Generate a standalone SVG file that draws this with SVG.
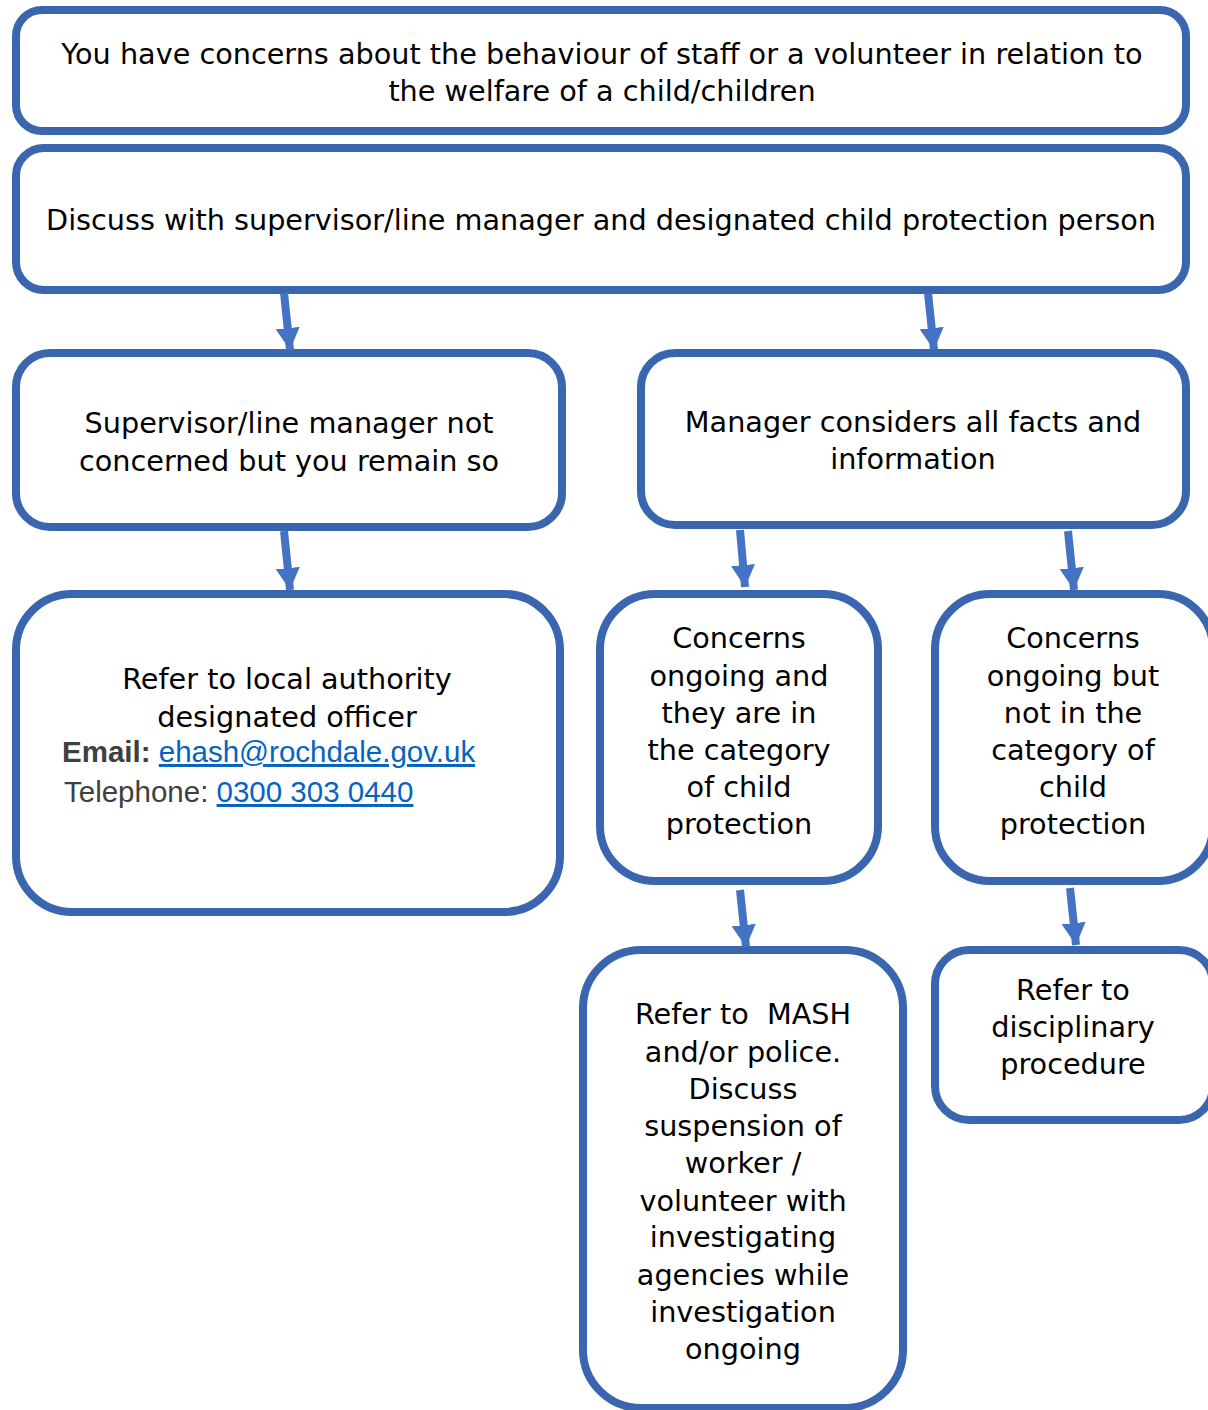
<svg xmlns="http://www.w3.org/2000/svg" width="1208" height="1410" viewBox="0 0 1208 1410">
<style>
.box{fill:#fff;stroke:#3A65AF;stroke-width:8}
.t{font-family:"DejaVu Sans",Verdana,sans-serif;font-size:28.7px;fill:#000;text-anchor:middle}
.c{font-family:"Liberation Sans",Arial,sans-serif;font-size:29.5px;fill:#404040}
.lnk{fill:#0563C1;text-decoration:underline}
.conn line{stroke:#4472C4;stroke-width:8}
</style>
<defs>
<marker id="ah" markerUnits="userSpaceOnUse" markerWidth="26" markerHeight="24" refX="22" refY="12" orient="auto">
<path d="M0,0 L22,12 L0,24 Z" fill="#4472C4"/>
</marker>
</defs>
<rect width="1208" height="1410" fill="#fff"/>
<g id="n1"><rect class="box" x="16" y="10" width="1170" height="121" rx="26"/>
<text class="t" x="602" y="64">You have concerns about the behaviour of staff or a volunteer in relation to</text>
<text class="t" x="602" y="101">the welfare of a child/children</text></g>
<g id="n2"><rect class="box" x="16" y="148" width="1170" height="142" rx="28"/>
<text class="t" x="601" y="230">Discuss with supervisor/line manager and designated child protection person</text></g>
<g id="n3"><rect class="box" x="16" y="353" width="546" height="174" rx="34"/>
<text class="t" x="289" y="433">Supervisor/line manager not</text>
<text class="t" x="289" y="471">concerned but you remain so</text></g>
<g id="n4"><rect class="box" x="641" y="353" width="545" height="172" rx="34"/>
<text class="t" x="913" y="432">Manager considers all facts and</text>
<text class="t" x="913" y="469">information</text></g>
<g id="n5"><rect class="box" x="16" y="594" width="544" height="318" rx="56"/>
<text class="t" x="287" y="689">Refer to local authority</text>
<text class="t" x="287" y="727">designated officer</text>
<text class="c" x="62" y="762"><tspan font-weight="bold">Email:</tspan> <tspan class="lnk">ehash@rochdale.gov.uk</tspan></text>
<text class="c" x="64" y="802">Telephone: <tspan class="lnk">0300 303 0440</tspan></text></g>
<g id="n6"><rect class="box" x="600" y="594" width="278" height="287" rx="55"/>
<text class="t" x="739" y="648">Concerns</text>
<text class="t" x="739" y="686">ongoing and</text>
<text class="t" x="739" y="723">they are in</text>
<text class="t" x="739" y="760">the category</text>
<text class="t" x="739" y="797">of child</text>
<text class="t" x="739" y="834">protection</text></g>
<g id="n7"><rect class="box" x="935" y="594" width="278" height="287" rx="55"/>
<text class="t" x="1073" y="648">Concerns</text>
<text class="t" x="1073" y="686">ongoing but</text>
<text class="t" x="1073" y="723">not in the</text>
<text class="t" x="1073" y="760">category of</text>
<text class="t" x="1073" y="797">child</text>
<text class="t" x="1073" y="834">protection</text></g>
<g id="n8"><rect class="box" x="583" y="950" width="320" height="458" rx="58"/>
<text class="t" x="743" y="1024" style="white-space:pre">Refer to  MASH</text>
<text class="t" x="743" y="1062">and/or police.</text>
<text class="t" x="743" y="1099">Discuss</text>
<text class="t" x="743" y="1136">suspension of</text>
<text class="t" x="743" y="1173">worker /</text>
<text class="t" x="743" y="1211">volunteer with</text>
<text class="t" x="743" y="1247">investigating</text>
<text class="t" x="743" y="1285">agencies while</text>
<text class="t" x="743" y="1322">investigation</text>
<text class="t" x="743" y="1359">ongoing</text></g>
<g id="n9"><rect class="box" x="935" y="950" width="278" height="170" rx="34"/>
<text class="t" x="1073" y="1000">Refer to</text>
<text class="t" x="1073" y="1037">disciplinary</text>
<text class="t" x="1073" y="1074">procedure</text></g>
<g id="connectors" class="conn">
<line x1="284" y1="293" x2="290" y2="350" marker-end="url(#ah)"/>
<line x1="928" y1="293" x2="934" y2="350" marker-end="url(#ah)"/>
<line x1="284" y1="531" x2="290" y2="590" marker-end="url(#ah)"/>
<line x1="740" y1="530" x2="745" y2="587" marker-end="url(#ah)"/>
<line x1="1068" y1="531" x2="1074" y2="590" marker-end="url(#ah)"/>
<line x1="740" y1="890" x2="746" y2="947" marker-end="url(#ah)"/>
<line x1="1070" y1="888" x2="1076" y2="945" marker-end="url(#ah)"/>
</g>
</svg>
